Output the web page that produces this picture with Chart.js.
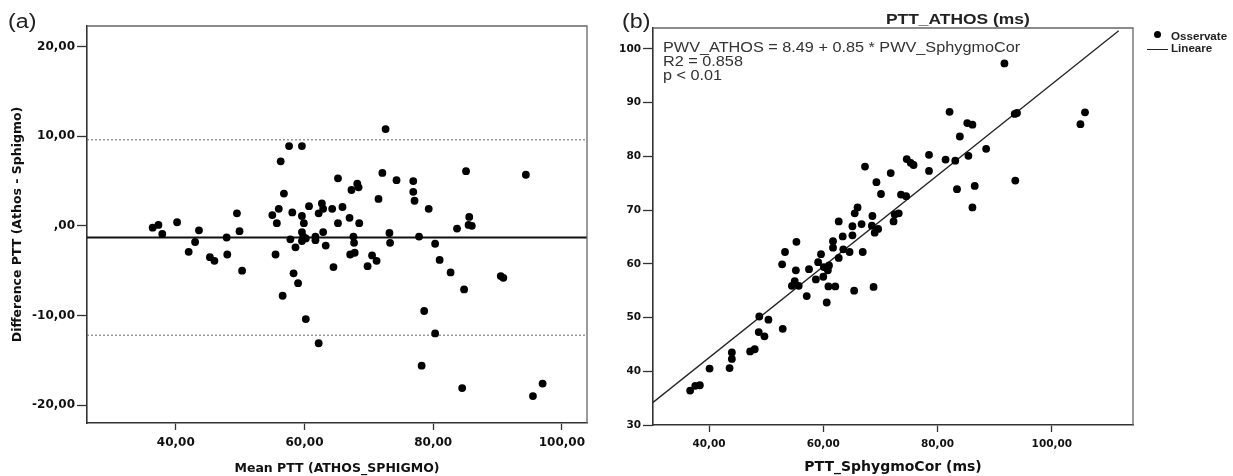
<!DOCTYPE html>
<html>
<head>
<meta charset="utf-8">
<script src="https://cdn.jsdelivr.net/npm/chart.js@4"></script>
<style>
  body{margin:0;background:#fff;width:1233px;height:476px;overflow:hidden;position:relative;font-family:Arial,'Liberation Sans',sans-serif;color:#222}
  canvas{position:absolute;top:0}
  #chartA{left:0}
  #chartB{left:600px}
  .txt{position:absolute;white-space:nowrap;transform:scaleX(1.16);transform-origin:left top;line-height:1}
  .tag{font-size:20px;top:11px}
  .title{font-size:15px;font-weight:bold;left:886px;top:11px}
  .note{left:663px;top:40px;font-size:14px;line-height:14.2px;color:#333}
  .leg{font-size:10px;font-weight:bold;left:1171px;color:#222}
  .dot{position:absolute;left:1154px;top:31px;width:7px;height:7px;border-radius:50%;background:#000}
  .ln{position:absolute;left:1147px;top:48.5px;width:21px;height:1.3px;background:#222}
</style>
</head>
<body>
<canvas id="chartA" width="600" height="476"></canvas>
<canvas id="chartB" width="633" height="476"></canvas>

<div class="txt tag" style="left:8px">(a)</div>
<div class="txt tag" style="left:622px">(b)</div>
<div class="txt title">PTT_ATHOS (ms)</div>
<div class="txt note">PWV_ATHOS = 8.49 + 0.85 * PWV_SphygmoCor<br>R2 = 0.858<br>p &lt; 0.01</div>
<div class="dot"></div>
<div class="txt leg" style="top:32px">Osservate</div>
<div class="ln"></div>
<div class="txt leg" style="top:44px">Lineare</div>

<script>
// (a) Bland-Altman: mean vs difference
const meanPTT = [36.4,37.3,37.9,40.2,43.6,43.0,42.0,45.3,46.0,47.9,
  48.0,49.5,49.9,50.3,55.0,55.7,56.0,55.5,56.3,56.8,
  57.6,59.6,56.6,58.3,59.0,58.1,57.8,58.6,59.6,59.9,
  59.6,59.8,59.6,60.2,60.2,60.7,61.7,61.7,62.2,62.2,
  62.7,62.9,62.9,63.3,64.3,64.5,65.2,65.2,65.9,67.0,
  67.3,68.2,67.6,67.7,67.1,67.8,68.5,68.4,72.6,72.1,
  74.3,76.9,76.9,77.1,71.5,79.3,70.5,71.2,69.8,73.2,
  73.3,77.8,80.3,81.0,82.7,84.8,78.6,80.3,78.2,84.5,
  83.7,85.6,85.5,86.0,85.1,90.5,90.9,94.4,95.5,97.0];
const diffPTT = [-0.2,0.1,-0.9,0.4,-0.5,-1.8,-2.9,-3.5,-3.9,-1.3,
  -3.2,1.4,-0.6,-5.0,1.2,0.3,1.9,-3.2,7.2,3.6,
  8.9,8.9,-7.8,-5.3,-6.4,1.5,-1.5,-2.4,1.1,0.3,
  -0.7,-1.2,-1.7,-1.4,-10.4,2.2,-1.2,-1.6,-13.1,1.4,
  2.5,1.9,-0.7,-2.2,1.9,-4.6,0.3,5.3,2.1,0.9,
  4.0,4.7,-1.2,-1.9,-3.2,-3.0,0.3,4.3,10.8,5.9,
  5.1,5.0,3.8,2.8,3.0,1.9,-3.3,-3.9,-4.5,-0.8,
  -1.9,-1.2,-2.0,-3.8,-5.2,-7.1,-9.5,-12.0,-15.6,-18.1,
  -0.3,1.0,0.1,0.0,6.1,-5.6,-5.8,5.7,-19.0,-17.6];
const meanDiff = -1.3;
const upperLoA = 9.6;
const lowerLoA = -12.2;
const meanRange = [26.2, 103.9];
const diffRange = [-22.0, 22.3];
const meanTicks = [40, 60, 80, 100];
const meanTickLabels = ['40,00', '60,00', '80,00', '100,00'];
const diffTicks = [-20, -10, 0, 10, 20];
const diffTickLabels = ['-20,00', '-10,00', ',00', '10,00', '20,00'];

// (b) regression: SphygmoCor vs ATHOS
const sphygmoPTT = [36.7,37.6,38.4,40.1,43.6,44.0,44.0,47.2,48.0,48.7,
  49.7,48.8,50.4,52.9,53.3,52.8,55.3,55.2,55.0,54.5,
  55.7,57.1,57.5,58.7,59.6,59.1,60.1,60.8,60.0,61.0,
  61.7,61.7,62.7,63.4,63.5,64.6,62.7,65.1,65.1,65.5,
  66.0,66.7,66.9,60.9,62.1,60.6,65.4,68.8,68.6,68.5,
  69.0,69.6,72.3,72.5,67.3,69.3,70.1,71.8,91.7,82.1,
  93.5,93.9,105.8,105.0,85.2,86.1,83.9,88.5,85.4,83.1,
  81.4,78.5,78.5,74.6,75.3,75.8,73.6,74.5,83.4,86.5,
  86.1,93.6,73.2];
const athosPTT = [36.4,37.3,37.4,40.5,40.6,42.3,43.5,43.7,44.1,47.3,
  46.5,50.2,49.6,47.9,62.2,59.9,64.1,58.8,56.8,55.9,
  55.9,54.0,59.0,57.1,61.8,60.3,59.4,58.8,57.6,59.7,
  64.2,63.0,61.1,65.1,62.7,62.2,67.9,65.3,67.0,69.4,
  70.5,67.4,62.2,55.8,55.8,52.8,55.0,55.7,68.9,67.1,
  65.8,66.5,67.9,69.2,78.1,75.2,73.0,76.9,97.3,88.3,
  87.9,88.1,88.2,86.0,86.2,85.9,83.7,81.4,80.1,79.2,
  79.4,80.3,77.3,79.5,78.8,78.4,72.9,72.6,73.9,74.5,
  70.5,75.5,69.4];
const fitX = [30.2, 111.7];
const fitY = [34.2, 103.4];
const sphygRange = [30.2, 114.2];
const athosRange = [30, 103.9];
const sphygTicks = [40, 60, 80, 100];
const sphygTickLabels = ['40,00', '60,00', '80,00', '100,00'];
const athosTicks = [30, 40, 50, 60, 70, 80, 90, 100];
const athosTickLabels = ['30', '40', '50', '60', '70', '80', '90', '100'];

const FONT = "'DejaVu Sans', sans-serif";

// grey top/right border of the plot box
const frame = {
  id: 'frame',
  afterDatasetsDraw(chart){
    const {ctx, chartArea:a} = chart;
    ctx.save();
    ctx.strokeStyle = '#666';
    ctx.lineWidth = 1.3;
    ctx.beginPath();
    ctx.moveTo(a.left, a.top);
    ctx.lineTo(a.right, a.top);
    ctx.lineTo(a.right, a.bottom);
    ctx.stroke();
    ctx.restore();
  }
};

function axis(range, ticks, labels, o){
  return {
    type: 'linear',
    min: range[0], max: range[1],
    afterBuildTicks: s => { s.ticks = ticks.map(v => ({value: v})); },
    afterFit: s => { if (o.width) s.width = o.width; if (o.height) s.height = o.height; },
    ticks: {
      autoSkip: false, maxRotation: 0, padding: o.pad, color: '#111',
      font: {family: FONT, size: o.size, weight: 'bold'},
      callback: v => labels[ticks.indexOf(v)]
    },
    grid: {drawOnChartArea: false, drawTicks: true, tickLength: o.tick, tickColor: '#333', tickWidth: 1.3},
    border: {display: true, color: '#333', width: 1.6},
    title: o.title ? {display: true, text: o.title, color: '#111', padding: o.titlePad,
      font: {family: FONT, size: o.titleSize, weight: 'bold'}} : {display: false}
  };
}

const pts = (xs, ys) => xs.map((x, i) => ({x, y: ys[i]}));
const hline = (range, y) => range.map(x => ({x, y}));

new Chart(document.getElementById('chartA'), {
  type: 'scatter',
  data: {
    datasets: [
      { data: pts(meanPTT, diffPTT), backgroundColor: '#000', borderColor: '#000', pointRadius: 3.9, borderWidth: 0 },
      { data: hline(meanRange, meanDiff), showLine: true, borderColor: '#111', borderWidth: 2, pointRadius: 0 },
      { data: hline(meanRange, upperLoA), showLine: true, borderColor: '#666', borderWidth: 1, borderDash: [2, 2], pointRadius: 0 },
      { data: hline(meanRange, lowerLoA), showLine: true, borderColor: '#666', borderWidth: 1, borderDash: [2, 2], pointRadius: 0 },
    ]
  },
  options: {
    responsive: false, animation: false,
    layout: {padding: {left: 0, top: 26, right: 13, bottom: 0}},
    plugins: {legend: {display: false}, tooltip: {enabled: false}},
    scales: {
      x: axis(meanRange, meanTicks, meanTickLabels, {height: 53, size: 12, pad: 6, tick: 7,
        title: 'Mean PTT (ATHOS_SPHIGMO)', titleSize: 12.5, titlePad: {top: 0, bottom: 0}}),
      y: axis(diffRange, diffTicks, diffTickLabels, {width: 87, size: 12, pad: 2, tick: 10,
        title: 'Difference PTT (Athos - Sphigmo)', titleSize: 12.5, titlePad: {top: 10, bottom: 0}})
    }
  },
  plugins: [frame]
});

new Chart(document.getElementById('chartB'), {
  type: 'scatter',
  data: {
    datasets: [
      { label: 'Osservate', data: pts(sphygmoPTT, athosPTT), backgroundColor: '#000', borderColor: '#000', pointRadius: 3.9, borderWidth: 0 },
      { label: 'Lineare', data: pts(fitX, fitY), showLine: true, borderColor: '#222', borderWidth: 1.3, pointRadius: 0 },
    ]
  },
  options: {
    responsive: false, animation: false,
    layout: {padding: {left: 0, top: 28, right: 100, bottom: 0}},
    plugins: {legend: {display: false}, tooltip: {enabled: false}},
    scales: {
      x: axis(sphygRange, sphygTicks, sphygTickLabels, {height: 51, size: 10.5, pad: 6, tick: 7,
        title: 'PTT_SphygmoCor (ms)', titleSize: 14, titlePad: {top: 0, bottom: 0}}),
      y: axis(athosRange, athosTicks, athosTickLabels, {width: 53, size: 10.5, pad: 2, tick: 10})
    }
  },
  plugins: [frame]
});
</script>
</body>
</html>
